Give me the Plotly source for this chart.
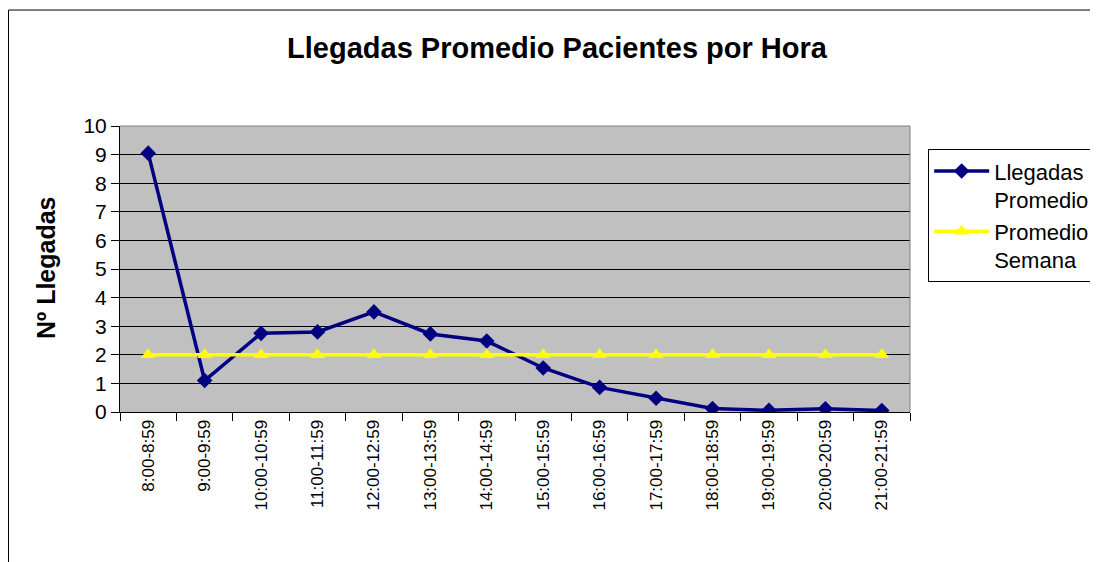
import plotly.graph_objects as go

categories = ["8:00-8:59", "9:00-9:59", "10:00-10:59", "11:00-11:59", "12:00-12:59",
              "13:00-13:59", "14:00-14:59", "15:00-15:59", "16:00-16:59", "17:00-17:59",
              "18:00-18:59", "19:00-19:59", "20:00-20:59", "21:00-21:59"]
llegadas_promedio = [9.05, 1.1, 2.75, 2.8, 3.5, 2.73, 2.48, 1.54, 0.86, 0.48, 0.12, 0.06, 0.11, 0.05]
promedio_semana = [2, 2, 2, 2, 2, 2, 2, 2, 2, 2, 2, 2, 2, 2]
y_ticks = [0, 1, 2, 3, 4, 5, 6, 7, 8, 9, 10]

FONT = "Liberation Sans, Arial, sans-serif"
W, H = 1090, 554  # page body has an 8px margin

fig = go.Figure()
fig.add_trace(go.Scatter(
    x=categories, y=llegadas_promedio, mode="lines+markers",
    name="Llegadas<br>Promedio",
    line=dict(color="#000080", width=3.5),
    marker=dict(symbol="diamond", size=12, color="#000080"),
))
fig.add_trace(go.Scatter(
    x=categories, y=promedio_semana, mode="lines+markers",
    name="Promedio<br>Semana",
    line=dict(color="#FFFF00", width=3.5),
    marker=dict(symbol="triangle-up", size=13, color="#FFFF00"),
))

fig.update_layout(
    width=W, height=H,
    margin=dict(l=112, r=188, t=118, b=150, autoexpand=False),
    paper_bgcolor="white", plot_bgcolor="#C0C0C0",
    font=dict(family=FONT, color="black"),
    title=dict(text="<b>Llegadas Promedio Pacientes por Hora</b>",
               x=549 / W, xanchor="center", y=1 - 40 / H, yanchor="middle",
               font=dict(size=29, family=FONT, color="black")),
    showlegend=True,
    legend=dict(x=1.023, y=0.919, xanchor="left", yanchor="top",
                bordercolor="black", borderwidth=1, bgcolor="white",
                font=dict(size=22, family=FONT, color="black"),
                itemwidth=55, valign="top", tracegroupgap=14),
    xaxis=dict(type="category", range=[-0.5, 13.5], tickson="boundaries",
               ticks="outside", ticklen=8, tickcolor="black",
               showline=True, linecolor="black", linewidth=1,
               tickangle=-90, tickfont=dict(size=17, family=FONT),
               showgrid=False, zeroline=False, fixedrange=True),
    yaxis=dict(range=[0, 10], tickvals=y_ticks, ticks="outside", ticklen=8,
               tickcolor="black", showline=True, linecolor="black", linewidth=1,
               showgrid=True, gridcolor="black", gridwidth=1, zeroline=False,
               tickfont=dict(size=21, family=FONT)),
)

# y-axis title
fig.add_annotation(text="<b>Nº Llegadas</b>", xref="paper", yref="paper",
                   x=(46 - 120) / 790, y=(412.3 - 268) / 286.6, textangle=-90,
                   showarrow=False, xanchor="center", yanchor="middle",
                   font=dict(size=25, family=FONT, color="black"))

# plot area border (gray right/top)
fig.add_shape(type="line", xref="paper", yref="paper", x0=1, x1=1, y0=0, y1=1,
              line=dict(color="#808080", width=1))
fig.add_shape(type="line", xref="paper", yref="paper", x0=0, x1=1, y0=1, y1=1,
              line=dict(color="#808080", width=1))
# outer chart frame
fig.add_shape(type="rect", xref="paper", yref="paper",
              x0=(8.5 - 120) / 790, x1=1.5, y0=-0.8, y1=(412.3 - 9.5) / 286.6,
              line=dict(color="black", width=1), fillcolor="rgba(0,0,0,0)", layer="below")

fig.write_html("out.html")
